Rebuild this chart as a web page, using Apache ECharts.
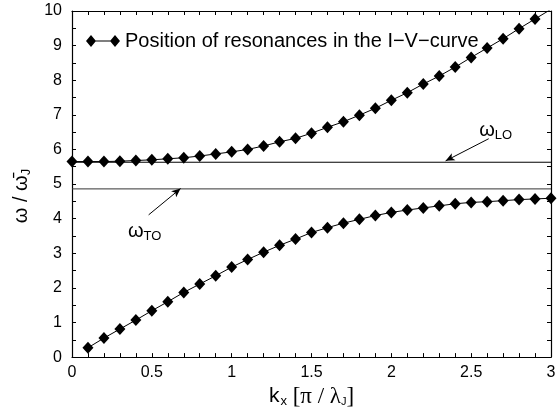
<!doctype html>
<html>
	<head>
		<meta charset="utf-8">
		<title>resonances</title>
		<style>
			html, body { margin: 0; padding: 0; background: #fff; }
			#main { width: 559px; height: 413px; }
		</style>
	</head>
	<body>
		<div id="main"></div>
		<script src="https://cdn.jsdelivr.net/npm/echarts@6/dist/echarts.min.js"></script>
		<script type="text/javascript">
			// upper branch, k_x = 0 .. 3.0
			var kxUpper = [0, 0.1, 0.2, 0.3, 0.4, 0.5, 0.6, 0.7, 0.8, 0.9, 1.0, 1.1, 1.2, 1.3, 1.4, 1.5,
				1.6, 1.7, 1.8, 1.9, 2.0, 2.1, 2.2, 2.3, 2.4, 2.5, 2.6, 2.7, 2.8, 2.9, 3.0];
			var wUpper = [5.65, 5.65, 5.65, 5.66, 5.68, 5.70, 5.73, 5.76, 5.81, 5.87, 5.93, 6.00, 6.10, 6.22, 6.32, 6.47,
				6.64, 6.80, 6.99, 7.19, 7.42, 7.64, 7.89, 8.12, 8.38, 8.66, 8.93, 9.20, 9.49, 9.77, 10.05];
			// lower branch, k_x = 0.1 .. 3.0
			var kxLower = [0.1, 0.2, 0.3, 0.4, 0.5, 0.6, 0.7, 0.8, 0.9, 1.0, 1.1, 1.2, 1.3, 1.4, 1.5,
				1.6, 1.7, 1.8, 1.9, 2.0, 2.1, 2.2, 2.3, 2.4, 2.5, 2.6, 2.7, 2.8, 2.9, 3.0];
			var wLower = [0.27, 0.55, 0.81, 1.07, 1.34, 1.60, 1.87, 2.11, 2.35, 2.60, 2.82, 3.03, 3.23, 3.41, 3.60,
				3.74, 3.87, 3.98, 4.09, 4.18, 4.25, 4.31, 4.37, 4.43, 4.47, 4.49, 4.52, 4.55, 4.57, 4.59];
			// horizontal levels
			var wLO = 5.63;
			var wTO = 4.86;
			var xRange = [0, 3];
			// annotation arrows [from, to] and label anchors
			var loArrow = [[2.61, 6.31], [2.34, 5.67]];
			var toArrow = [[0.48, 4.11], [0.68, 4.87]];
			var loLabel = [2.55, 6.54];
			var toLabel = [0.35, 3.62];
			var legendName = 'Position of resonances in the I\u2212V\u2212curve';

			function pairs(xs, ys) {
				var out = [];
				for (var i = 0; i < xs.length; i++) {
					out.push([xs[i], ys[i]]);
				}
				return out;
			}

			var sans = "'Liberation Sans', Arial, sans-serif";
			var serif = "'Liberation Serif', 'Times New Roman', serif";
			var omegaRich = {
				w: { fontFamily: sans, fontSize: 20, color: '#000' },
				s: { fontFamily: sans, fontSize: 13, color: '#000', padding: [10, 0, 0, 0] }
			};

			var chart = echarts.init(document.getElementById('main'));

			var tickStyle = { show: true, inside: true, length: 4, lineStyle: { color: '#000', width: 1 } };
			var lineAx = { show: true, onZero: false, lineStyle: { color: '#000', width: 1.2 } };

			chart.setOption({
				animation: false,
				backgroundColor: '#fff',
				grid: { left: 72, right: 8, top: 11, bottom: 51, containLabel: false },
				legend: {
					data: [{ name: legendName, icon: 'path://M0,6 L5,0 L10,6 L5,12 Z M5,5.4 L29,5.4 L29,6.6 L5,6.6 Z M24,6 L29,0 L34,6 L29,12 Z' }],
					left: 81,
					top: 26,
					itemWidth: 34,
					itemHeight: 12,
					itemGap: 8,
					textStyle: { fontFamily: sans, fontSize: 20, color: '#000' },
					selectedMode: false
				},
				xAxis: [{
					type: 'value',
					min: xRange[0],
					max: xRange[1],
					interval: 0.5,
					position: 'bottom',
					axisLine: lineAx,
					axisTick: tickStyle,
					minorTick: { show: true, splitNumber: 5, length: 4, lineStyle: { color: '#000' } },
					splitLine: { show: false },
					axisLabel: {
						margin: 7,
						fontFamily: sans,
						fontSize: 16,
						color: '#000',
						formatter: function(v) { return String(v); }
					},
					name: '{k|k}{x|x}{b| [\u03c0 / \u03bb}{j|J}{b|]}',
					nameLocation: 'middle',
					nameGap: 20,
					nameTextStyle: {
						rich: {
							k: { fontFamily: sans, fontSize: 21, color: '#000' },
							x: { fontFamily: sans, fontSize: 13, color: '#000', padding: [10, 0, 0, 1] },
							b: { fontFamily: serif, fontSize: 23, color: '#000' },
							j: { fontFamily: sans, fontSize: 11, color: '#000', padding: [10, 0, 0, 0] }
						}
					}
				}, {
					type: 'value',
					min: xRange[0],
					max: xRange[1],
					interval: 0.5,
					position: 'top',
					axisLine: lineAx,
					axisTick: tickStyle,
					minorTick: { show: true, splitNumber: 5, length: 4, lineStyle: { color: '#000' } },
					splitLine: { show: false },
					axisLabel: { show: false }
				}],
				yAxis: [{
					type: 'value',
					min: 0,
					max: 10,
					interval: 1,
					position: 'left',
					axisLine: lineAx,
					axisTick: tickStyle,
					minorTick: { show: true, splitNumber: 2, length: 4, lineStyle: { color: '#000' } },
					splitLine: { show: false },
					axisLabel: { margin: 10, fontFamily: sans, fontSize: 16, color: '#000' },
					name: '{w|\u03c9 / \u03c9\u0304}{s|J}',
					nameLocation: 'middle',
					nameRotate: 90,
					nameGap: 33,
					nameTextStyle: { rich: omegaRich, padding: [0, 24, 0, 0] }
				}, {
					type: 'value',
					min: 0,
					max: 10,
					interval: 1,
					position: 'right',
					axisLine: lineAx,
					axisTick: tickStyle,
					minorTick: { show: true, splitNumber: 2, length: 4, lineStyle: { color: '#000' } },
					splitLine: { show: false },
					axisLabel: { show: false }
				}],
				series: [{
					name: legendName,
					type: 'line',
					data: pairs(kxUpper, wUpper),
					symbol: 'diamond',
					symbolSize: [11, 12],
					itemStyle: { color: '#000' },
					lineStyle: { color: '#000', width: 1 },
					clip: true,
					z: 5
				}, {
					name: legendName,
					type: 'line',
					data: pairs(kxLower, wLower),
					symbol: 'diamond',
					symbolSize: [11, 12],
					itemStyle: { color: '#000' },
					lineStyle: { color: '#000', width: 1 },
					clip: true,
					z: 5
				}, {
					name: 'LO',
					type: 'line',
					data: pairs(xRange, [wLO, wLO]),
					symbol: 'none',
					lineStyle: { color: '#000', width: 1 },
					markLine: {
						silent: true,
						symbol: ['none', 'arrow'],
						symbolSize: [6, 9],
						lineStyle: { color: '#000', width: 1, type: 'solid' },
						label: { show: false },
						data: [[{ coord: loArrow[0] }, { coord: loArrow[1] }]]
					},
					markPoint: {
						silent: true,
						symbol: 'circle',
						symbolSize: 0,
						label: {
							show: true,
							position: [0, 0],
							align: 'left',
							verticalAlign: 'middle',
							formatter: '{w|\u03c9}{s|LO}',
							rich: omegaRich
						},
						data: [{ coord: loLabel }]
					}
				}, {
					name: 'TO',
					type: 'line',
					data: pairs(xRange, [wTO, wTO]),
					symbol: 'none',
					lineStyle: { color: '#333', width: 1 },
					markLine: {
						silent: true,
						symbol: ['none', 'arrow'],
						symbolSize: [6, 9],
						lineStyle: { color: '#000', width: 1, type: 'solid' },
						label: { show: false },
						data: [[{ coord: toArrow[0] }, { coord: toArrow[1] }]]
					},
					markPoint: {
						silent: true,
						symbol: 'circle',
						symbolSize: 0,
						label: {
							show: true,
							position: [0, 0],
							align: 'left',
							verticalAlign: 'middle',
							formatter: '{w|\u03c9}{s|TO}',
							rich: omegaRich
						},
						data: [{ coord: toLabel }]
					}
				}]
			});
		</script>
	</body>
</html>
